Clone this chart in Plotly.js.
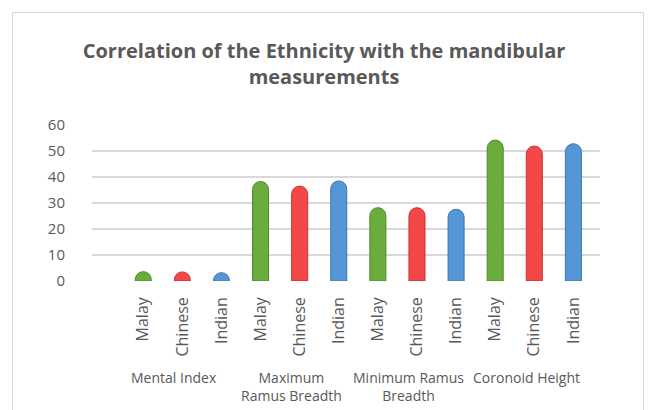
<!DOCTYPE html>
<html>
<head>
<meta charset="utf-8">
<script src="https://cdn.plot.ly/plotly-3.0.1.min.js"></script>
<style>
  html, body { margin: 0; padding: 0; background: #ffffff; }
  #wrap { position: relative; width: 648px; height: 410px; overflow: hidden; }
  #chart { position: absolute; left: 0; top: 0; width: 648px; height: 410px; }
  #frame { position: absolute; left: 12px; top: 12px; width: 630px; height: 420px;
           border: 1px solid #d9d9d9; pointer-events: none; }
</style>
</head>
<body>
<div id="wrap">
  <div id="chart"></div>
  <div id="frame"></div>
</div>
<script>
// ---- data ----
const groups = ["Mental Index", "Maximum<br>Ramus Breadth", "Minimum Ramus<br>Breadth", "Coronoid Height"];
const ethnicities = ["Malay", "Chinese", "Indian"];
const malay   = [3.6, 38.3, 28.2, 54.2];
const chinese = [3.5, 36.5, 28.2, 51.9];
const indian  = [3.2, 38.5, 27.6, 52.8];
const yTicks  = [0, 10, 20, 30, 40, 50, 60];

const colors = { "Malay": "#6aac3e", "Chinese": "#f44747", "Indian": "#5596d7" };
const edges  = { "Malay": "#4f8a2b", "Chinese": "#c93333", "Indian": "#3c77b3" };

const seriesByEth = { "Malay": malay, "Chinese": chinese, "Indian": indian };

const xs = [], ys = [], cols = [], lines = [], tickText = [];
groups.forEach((g, gi) => {
  ethnicities.forEach((e, ei) => {
    xs.push(gi * ethnicities.length + ei);
    ys.push(seriesByEth[e][gi]);
    cols.push(colors[e]);
    lines.push(edges[e]);
    tickText.push(e);
  });
});

const trace = {
  type: "bar",
  x: xs,
  y: ys,
  marker: { color: cols, line: { color: lines, width: 1 }, cornerradius: 8 },
  hoverinfo: "y",
  showlegend: false
};

const font = "'Open Sans', 'Noto Sans', sans-serif";
const annotations = groups.map((g, gi) => ({
  x: gi * ethnicities.length + 1,
  xref: "x",
  y: 0,
  yref: "paper",
  yshift: -85,
  xshift: -8,
  yanchor: "top",
  xanchor: "center",
  text: g,
  showarrow: false,
  align: "center",
  font: { family: font, size: 14, color: "#595959" }
}));

const layout = {
  width: 648,
  height: 410,
  margin: { l: 92, r: 48, t: 125, b: 129 },
  paper_bgcolor: "#ffffff",
  plot_bgcolor: "#ffffff",
  bargap: 0.59,
  title: {
    text: "<b>Correlation of the Ethnicity with the mandibular<br>measurements</b>",
    x: 0.5, xanchor: "center",
    y: 1 - 58 / 410, yref: "container", yanchor: "middle",
    font: { family: font, size: 20, color: "#595959" }
  },
  xaxis: {
    range: [-1.31, 11.68],
    tickmode: "array",
    tickvals: xs,
    ticktext: tickText,
    tickangle: -90,
    ticks: "",
    showgrid: false,
    zeroline: false,
    showline: false,
    ticklabelstandoff: 12,
    tickfont: { family: font, size: 16, color: "#595959" }
  },
  yaxis: {
    range: [0, 60],
    tickmode: "array",
    tickvals: yTicks,
    showgrid: true,
    gridcolor: "#d9d9d9",
    gridwidth: 1.5,
    zeroline: false,
    showline: false,
    ticks: "",
    ticklabelstandoff: 26,
    tickfont: { family: font, size: 15, color: "#595959" }
  },
  annotations: annotations
};

Plotly.newPlot("chart", [trace], layout, { displayModeBar: false, staticPlot: true });
</script>
</body>
</html>
